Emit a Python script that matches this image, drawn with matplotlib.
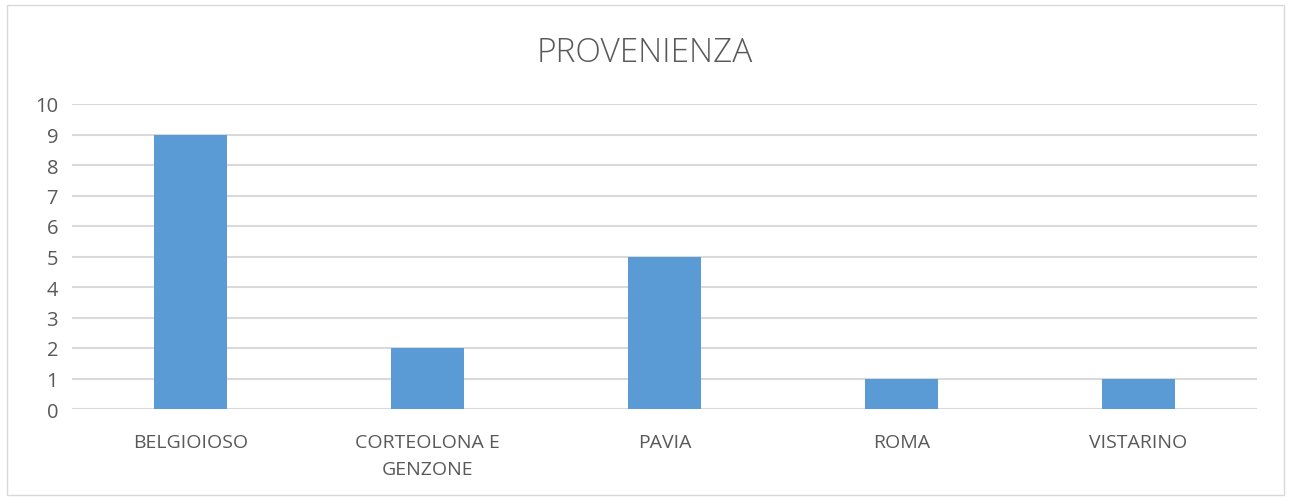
import numpy as np
import matplotlib.pyplot as plt
from matplotlib.patches import Rectangle

categories = ['BELGIOIOSO', 'CORTEOLONA E\nGENZONE', 'PAVIA', 'ROMA', 'VISTARINO']
counts = [9, 2, 5, 1, 1]
yticks = np.arange(0, 11, 1)

plt.rcParams['font.family'] = ['Open Sans', 'DejaVu Sans']

fig = plt.figure(figsize=(12.9, 5.02), dpi=100)
# outer chart border
fig.patches.append(Rectangle((7/1290, 6/502), 1277/1290, 490/502, transform=fig.transFigure,
                             fill=False, edgecolor='#d9d9d9', linewidth=1))

ax = fig.add_axes([72/1290, 1 - 410/502, (1257 - 72)/1290, (410 - 105)/502])
x = np.arange(len(categories))
ax.bar(x, counts, width=0.31, color='#5b9bd5', zorder=3)

ax.set_xlim(-0.5, len(categories) - 0.5)
ax.set_ylim(0, 10)
ax.set_yticks(yticks)
ax.set_xticks(x)
ax.set_xticklabels(categories, fontsize=14, color='#595959', linespacing=1.65)
ax.tick_params(axis='y', labelsize=14.5, colors='#595959', length=0, pad=10)
ax.tick_params(axis='x', length=0, pad=17)
ax.grid(axis='y', color='#d9d9d9', linewidth=1.5, zorder=0)
for s in ax.spines.values():
    s.set_visible(False)

fig.text(0.5, 1 - 53/502, 'PROVENIENZA', ha='center', va='center', fontsize=24,
         color='#595959', fontweight='light')

fig.savefig('out.png', dpi=100)
